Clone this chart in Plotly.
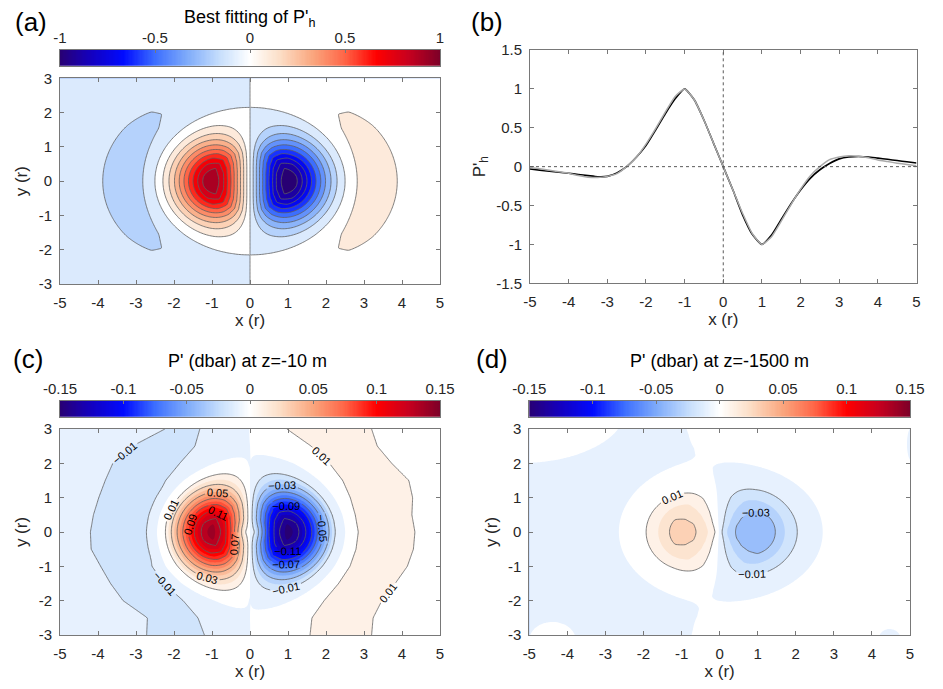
import numpy as np
import plotly.graph_objects as go

# ---------------- values ----------------
# panel (b): observed section along y = 0 (black line)
obs_x = [-5.0, -4.75, -4.5, -4.25, -4.0, -3.75, -3.5, -3.25, -3.0, -2.75, -2.5, -2.25, -2.0, -1.75,
         -1.5, -1.25, -1.0, -0.75, -0.5, -0.25, 0.0, 0.25, 0.5, 0.75, 1.0, 1.25, 1.5, 1.75, 2.0,
         2.25, 2.5, 2.75, 3.0, 3.25, 3.5, 3.75, 4.0, 4.25, 4.5, 4.75, 5.0]
obs_p = [-0.03, -0.045, -0.06, -0.072, -0.085, -0.10, -0.115, -0.13, -0.125, -0.08, 0.0, 0.12,
         0.27, 0.47, 0.68, 0.87, 1.0, 0.86, 0.60, 0.30, 0.0, -0.30, -0.62, -0.87, -1.0, -0.88,
         -0.68, -0.48, -0.30, -0.15, -0.04, 0.04, 0.10, 0.125, 0.13, 0.125, 0.11, 0.095, 0.078,
         0.062, 0.047]

# best-fitting P'_h: value at distance r from the centre on the x<0 side (grey line, panel a)
fit_r = [0.0, 0.25, 0.5, 0.75, 1.0, 1.25, 1.5, 1.75, 2.0, 2.25, 2.5, 2.75, 3.0, 3.25, 3.5,
         3.75, 4.0, 4.25, 4.5, 4.75, 5.0]
fit_v = [0.0, 0.30, 0.60, 0.86, 1.0, 0.90, 0.70, 0.49, 0.29, 0.12, 0.0, -0.09, -0.125, -0.14,
         -0.135, -0.115, -0.085, -0.065, -0.045, -0.028, -0.012]
fit_y_stretch = 1.163

# panel (c): P' (dbar) at z=-10 m  -- dipole profile along y=0 and outer band edges
lobe_c_r = [0.0, 0.1, 0.25, 0.5, 0.75, 1.0, 1.25, 1.5, 1.75, 2.0, 2.25, 2.5, 2.75, 3.0]
lobe_c_v = [0.0, 0.008, 0.035, 0.09, 0.128, 0.146, 0.134, 0.107, 0.074, 0.042, 0.012, 0.006, 0.0, 0.0]
lobe_c_stretch = 1.16
band_y = [3.0, 2.5, 2.0, 1.5, 1.0, 0.5, 0.0, -0.5, -1.0, -1.5, -2.0, -2.5, -3.0]
band_left_outer = [-2.24, -3.1, -3.61, -3.81, -3.98, -4.12, -4.2, -4.18, -3.93, -3.67, -3.34, -2.7, -2.72]
band_left_inner = [-1.32, -1.45, -1.85, -2.22, -2.45, -2.61, -2.68, -2.64, -2.58, -2.26, -1.76, -1.37, -1.2]
band_right_inner = [0.97, 1.61, 2.09, 2.44, 2.64, 2.77, 2.85, 2.79, 2.63, 2.33, 1.95, 1.63, 1.58]
band_right_outer = [3.2, 3.35, 3.73, 4.18, 4.28, 4.26, 4.34, 4.3, 4.14, 3.82, 3.47, 3.24, 3.2]
band_c_peak = 0.016

# panel (d): P' (dbar) at z=-1500 m
lobe_d_r = [0.0, 0.1, 0.25, 0.5, 0.75, 1.0, 1.25, 1.5, 1.75, 2.0, 2.25, 2.5, 2.75, 3.0, 3.5, 4.0]
lobe_d_v = [0.0, 0.30, 0.55, 0.82, 0.97, 1.0, 0.96, 0.75, 0.50, 0.32, 0.20, 0.13, 0.085, 0.055, 0.02, 0.0]
lobe_d_amp_left = 0.037
lobe_d_amp_right = 0.0385
lobe_d_stretch = 1.2
bg_d_base = -0.004
bg_d_x = [2.5, 2.5, 5.0, -5.2, -4.4, 5.05, 4.45]
bg_d_y = [3.5, -3.5, 0.0, 3.3, -3.15, 2.55, -3.1]
bg_d_sx = [2.5, 2.5, 2.2, 1.6, 0.4, 0.15, 0.35]
bg_d_sy = [1.5, 1.5, 3.0, 0.9, 0.35, 0.55, 0.35]
bg_d_amp = [0.009, 0.009, 0.011, 0.011, 0.012, -0.012, -0.012]

# tick labels
x_ticks = [-5, -4, -3, -2, -1, 0, 1, 2, 3, 4, 5]
x_ticktext = ['-5', '-4', '-3', '-2', '-1', '0', '1', '2', '3', '4', '5']
y_ticks = [-3, -2, -1, 0, 1, 2, 3]
y_ticktext = ['-3', '-2', '-1', '0', '1', '2', '3']
yb_ticks = [-1.5, -1, -0.5, 0, 0.5, 1, 1.5]
yb_ticktext = ['-1.5', '-1', '-0.5', '0', '0.5', '1', '1.5']
cba_ticks = [-1, -0.5, 0, 0.5, 1]
cba_ticktext = ['-1', '-0.5', '0', '0.5', '1']
cbc_ticks = [-0.15, -0.1, -0.05, 0, 0.05, 0.1, 0.15]
cbc_ticktext = ['-0.15', '-0.1', '-0.05', '0', '0.05', '0.1', '0.15']

# colormap (blue - white - red)
cmap_pos = [0.0, 0.08, 0.167, 0.25, 0.333, 0.42, 0.5, 0.58, 0.667, 0.75, 0.833, 0.917, 1.0]
cmap_rgb = [(40, 0, 115), (20, 0, 190), (0, 10, 255), (60, 110, 255), (125, 170, 250),
            (198, 222, 252), (255, 255, 255), (252, 222, 198), (250, 165, 125), (255, 100, 70),
            (255, 0, 0), (200, 0, 30), (125, 0, 40)]

# ---------------- helpers ----------------
gx = np.linspace(-5, 5, 250)
gy = np.linspace(-3, 3, 150)
X, Y = np.meshgrid(gx, gy)


def dipole(r_tab, v_tab, stretch, amp_l=1.0, amp_r=1.0):
    rho = np.hypot(X, stretch * Y)
    F = np.interp(rho, r_tab, v_tab)
    cosang = -X / np.maximum(rho, 1e-9)
    amp = np.where(X < 0, amp_l, amp_r)
    return amp * F * cosang


def band(inner, outer, peak, left):
    yy = np.array(band_y)[::-1]
    inn = np.interp(gy, yy, np.array(inner)[::-1])
    out = np.interp(gy, yy, np.array(outer)[::-1])
    c = (inn + out) / 2
    hw = np.abs(out - inn) / 2
    k = np.log(abs(peak) / 0.01)
    val = peak * np.exp(-k * ((X - c[:, None]) / hw[:, None]) ** 2)
    mask = (X < 0) if left else (X > 0)
    return np.where(mask, val, 0.0)


P_a = dipole(fit_r, fit_v, fit_y_stretch)
P_c = (dipole(lobe_c_r, lobe_c_v, lobe_c_stretch)
       + band(band_left_inner, band_left_outer, -band_c_peak, True)
       + band(band_right_inner, band_right_outer, band_c_peak, False))
P_d = dipole(lobe_d_r, lobe_d_v, lobe_d_stretch, lobe_d_amp_left, lobe_d_amp_right) + bg_d_base
for bx, by, sx, sy, a in zip(bg_d_x, bg_d_y, bg_d_sx, bg_d_sy, bg_d_amp):
    P_d = P_d + a * np.exp(-0.5 * (((X - bx) / sx) ** 2 + ((Y - by) / sy) ** 2))

crgb = np.array(cmap_rgb, dtype=float)


def cmap_at(t):
    t = min(max(t, 0.0), 1.0)
    return tuple(int(round(np.interp(t, cmap_pos, crgb[:, i]))) for i in range(3))


def colorscale(shift):
    ts = np.linspace(0, 1, 121)
    return [[float(t), 'rgb(%d,%d,%d)' % cmap_at(t - shift)] for t in ts]


cs_true = colorscale(0.0)
cs_a = colorscale(0.025)
cs_cd = colorscale(0.005 / 0.3)

fit_line_x = [-r for r in fit_r[::-1]] + fit_r[1:]
fit_line_y = fit_v[::-1] + [-v for v in fit_v[1:]]

ramp_a = np.linspace(-1, 1, 301)
ramp_cd = np.linspace(-0.15, 0.15, 301)

W, H = 943, 689
OFF = 8  # page body margin


def fx(px): return (px - OFF) / W
def fy(py): return 1 - (py - OFF) / H


GRAY = 'rgb(120,120,120)'
TXT = 'rgb(38,38,38)'
LINEC = 'rgb(95,95,95)'

fig = go.Figure()

# (a)
fig.add_trace(go.Contour(x=gx, y=gy, z=P_a, xaxis='x', yaxis='y', zmin=-1, zmax=1,
                         autocontour=False,
                         contours=dict(start=-1, end=1, size=0.1, coloring='fill', showlines=True),
                         colorscale=cs_a, showscale=False,
                         line=dict(color=LINEC, width=0.8), hoverinfo='skip'))
# (b)
fig.add_trace(go.Scatter(x=obs_x, y=obs_p, mode='lines', xaxis='x2', yaxis='y2',
                         line=dict(color='black', width=1.6, shape='spline', smoothing=0.5),
                         showlegend=False, hoverinfo='skip'))
fig.add_trace(go.Scatter(x=fit_line_x, y=fit_line_y, mode='lines', xaxis='x2', yaxis='y2',
                         line=dict(color='rgb(170,170,170)', width=1.5, shape='spline', smoothing=0.5),
                         showlegend=False, hoverinfo='skip'))
# (c)
fig.add_trace(go.Contour(x=gx, y=gy, z=P_c, xaxis='x3', yaxis='y3', zmin=-0.15, zmax=0.15,
                         autocontour=False,
                         contours=dict(start=-0.15, end=0.15, size=0.01, coloring='fill', showlines=False),
                         colorscale=cs_cd, showscale=False, line=dict(width=0), hoverinfo='skip'))
fig.add_trace(go.Contour(x=gx, y=gy, z=P_c, xaxis='x3', yaxis='y3', autocontour=False,
                         contours=dict(start=-0.13, end=0.13, size=0.02, coloring='none',
                                       showlabels=True, labelformat='.2f',
                                       labelfont=dict(size=11, color='black')),
                         showscale=False, line=dict(color=LINEC, width=0.8), hoverinfo='skip'))
# (d)
fig.add_trace(go.Contour(x=gx, y=gy, z=P_d, xaxis='x4', yaxis='y4', zmin=-0.15, zmax=0.15,
                         autocontour=False,
                         contours=dict(start=-0.15, end=0.15, size=0.01, coloring='fill', showlines=False),
                         colorscale=cs_cd, showscale=False, line=dict(width=0), hoverinfo='skip'))
fig.add_trace(go.Contour(x=gx, y=gy, z=P_d, xaxis='x4', yaxis='y4', autocontour=False,
                         contours=dict(start=-0.13, end=0.13, size=0.02, coloring='none',
                                       showlabels=True, labelformat='.2f',
                                       labelfont=dict(size=11, color='black')),
                         showscale=False, line=dict(color=LINEC, width=0.8), hoverinfo='skip'))
# colorbars
fig.add_trace(go.Heatmap(x=ramp_a, y=[0], z=[ramp_a], colorscale=cs_true, zmin=-1, zmax=1,
                         showscale=False, xaxis='x5', yaxis='y5', hoverinfo='skip'))
fig.add_trace(go.Heatmap(x=ramp_cd, y=[0], z=[ramp_cd], colorscale=cs_true, zmin=-0.15, zmax=0.15,
                         showscale=False, xaxis='x6', yaxis='y6', hoverinfo='skip'))
fig.add_trace(go.Heatmap(x=ramp_cd, y=[0], z=[ramp_cd], colorscale=cs_true, zmin=-0.15, zmax=0.15,
                         showscale=False, xaxis='x7', yaxis='y7', hoverinfo='skip'))

ax_common = dict(showline=True, linecolor=GRAY, linewidth=1, mirror='ticks', ticks='inside',
                 ticklen=4, tickcolor=GRAY, showgrid=False, zeroline=False, automargin=False,
                 tickfont=dict(size=15, color=TXT))
title_font = dict(size=17, color=TXT)

dom_a_x = [fx(60), fx(440)]
dom_a_y = [fy(284), fy(78.3)]
dom_b_x = [fx(530), fx(916.5)]
dom_b_y = [fy(283.3), fy(50)]
dom_c_x = [fx(60), fx(440)]
dom_cd_y = [fy(635), fy(429)]
dom_d_x = [fx(529.3), fx(910)]
cb_a_y = [fy(65.7), fy(50)]
cb_cd_y = [fy(416.7), fy(401)]


def xax(dom, anchor):
    d = dict(ax_common)
    d.update(domain=dom, anchor=anchor, range=[-5, 5], tickvals=x_ticks, ticktext=x_ticktext,
             ticklabelstandoff=5,
             title=dict(text='x (r)', font=title_font, standoff=3))
    return d


def yax(dom, anchor, ticks, ttext, rng, title):
    d = dict(ax_common)
    d.update(domain=dom, anchor=anchor, range=rng, tickvals=ticks, ticktext=ttext,
             ticklabelstandoff=4,
             title=dict(text=title, font=title_font, standoff=6))
    return d


def cbx(dom, anchor, rng, ticks, ttext):
    return dict(domain=dom, anchor=anchor, range=rng, side='top', tickvals=ticks, ticktext=ttext,
                ticks='inside', ticklen=3, tickcolor=GRAY, showline=True, linecolor=GRAY,
                linewidth=1, mirror=True, showgrid=False, zeroline=False, automargin=False,
                ticklabelstandoff=0, tickfont=dict(size=15, color=TXT))


def cby(dom, anchor):
    return dict(domain=dom, anchor=anchor, range=[-0.5, 0.5], showticklabels=False, ticks='',
                showline=True, linecolor=GRAY, linewidth=1, mirror=True, showgrid=False,
                zeroline=False, automargin=False)


fig.update_layout(
    template='none',
    width=W, height=H, margin=dict(l=0, r=0, t=0, b=0, autoexpand=False),
    paper_bgcolor='white', plot_bgcolor='white', showlegend=False,
    font=dict(family='Liberation Sans, Arial, sans-serif', color=TXT),
    xaxis=xax(dom_a_x, 'y'),
    yaxis=yax(dom_a_y, 'x', y_ticks, y_ticktext, [-3, 3], 'y (r)'),
    xaxis2=xax(dom_b_x, 'y2'),
    yaxis2=yax(dom_b_y, 'x2', yb_ticks, yb_ticktext, [-1.5, 1.5], "P'<sub>h</sub>"),
    xaxis3=xax(dom_c_x, 'y3'),
    yaxis3=yax(dom_cd_y, 'x3', y_ticks, y_ticktext, [-3, 3], 'y (r)'),
    xaxis4=xax(dom_d_x, 'y4'),
    yaxis4=yax(dom_cd_y, 'x4', y_ticks, y_ticktext, [-3, 3], 'y (r)'),
    xaxis5=cbx(dom_a_x, 'y5', [-1, 1], cba_ticks, cba_ticktext),
    yaxis5=cby(cb_a_y, 'x5'),
    xaxis6=cbx(dom_c_x, 'y6', [-0.15, 0.15], cbc_ticks, cbc_ticktext),
    yaxis6=cby(cb_cd_y, 'x6'),
    xaxis7=cbx(dom_d_x, 'y7', [-0.15, 0.15], cbc_ticks, cbc_ticktext),
    yaxis7=cby(cb_cd_y, 'x7'),
)

# dotted reference lines in (b)
fig.add_shape(type='line', xref='x2 domain', x0=0, x1=1, yref='y2', y0=0, y1=0,
              line=dict(color='rgb(90,90,90)', width=1, dash='dot'))
fig.add_shape(type='line', xref='x2', x0=0, x1=0, yref='y2 domain', y0=0, y1=1,
              line=dict(color='rgb(90,90,90)', width=1, dash='dot'))

ann = [
    ('(a)', 31, 22, 26), ('(b)', 487, 22, 26), ('(c)', 28, 359, 26), ('(d)', 492, 359, 26),
    ("Best fitting of P'<sub>h</sub>", 250, 19, 18),
    ("P' (dbar) at z=-10 m", 248, 361, 18),
    ("P' (dbar) at z=-1500 m", 719, 361, 18),
]
for text, px, py, size in ann:
    fig.add_annotation(text=text, x=fx(px), y=fy(py), xref='paper', yref='paper',
                       showarrow=False, xanchor='center', yanchor='middle',
                       font=dict(size=size, color='black'))

fig.write_html('out.html')
